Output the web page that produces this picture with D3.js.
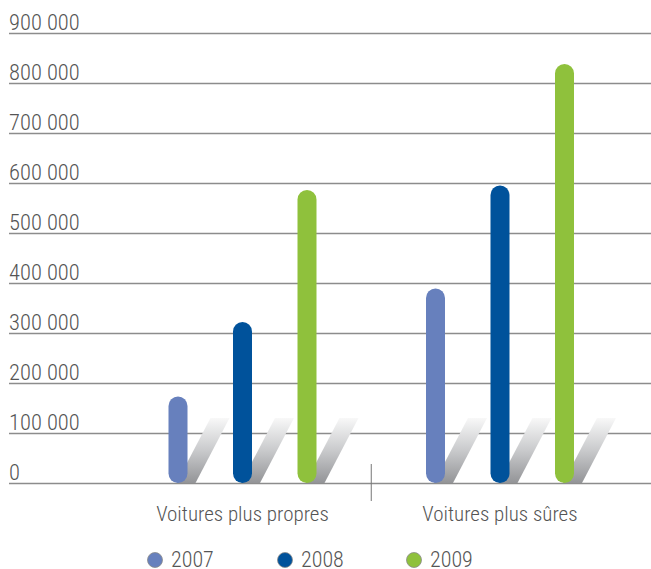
<!DOCTYPE html>
<html>
<head>
<meta charset="utf-8">
<script src="https://cdn.jsdelivr.net/npm/d3@7"></script>
<style>
  html, body { margin: 0; padding: 0; background: #fff; }
  svg { display: block; }
  text { font-family: "Roboto Condensed", "Liberation Sans Narrow", "Arial Narrow", sans-serif; font-weight: 300; fill: #555; }
</style>
</head>
<body>
<svg id="chart" width="651" height="569"></svg>
<script>
// Categories, series and values (number of cars)
const categories = ["Voitures plus propres", "Voitures plus sûres"];
const years = ["2007", "2008", "2009"];
const values2007 = [173000, 389000];
const values2008 = [322000, 595000];
const values2009 = [586000, 838000];
const yTicks = [0, 100000, 200000, 300000, 400000, 500000, 600000, 700000, 800000, 900000];
const colors = ["#6780bd", "#00529b", "#8fc13c"];

const seriesValues = [values2007, values2008, values2009];
const rows = [];
categories.forEach((c, ci) => {
  years.forEach((y, yi) => rows.push({ category: c, year: y, value: seriesValues[yi][ci], color: colors[yi] }));
});

const svg = d3.select("#chart");
const width = 651;

const y = d3.scaleLinear().domain([0, 900000]).range([483, 33]);
const x = d3.scaleBand().domain(categories).range([113.75, 628.75]);
const xi = d3.scalePoint().domain(years).range([-64.5, 64.5]);
const barW = 19;

const fmt = v => d3.format(",")(v).replace(/,/g, " ");

// Gradient for the slanted shadows
const defs = svg.append("defs");
const grad = defs.append("linearGradient").attr("id", "shade")
  .attr("x1", 0).attr("y1", 1).attr("x2", 0).attr("y2", 0);
grad.append("stop").attr("offset", "0%").attr("stop-color", "#939497");
grad.append("stop").attr("offset", "50%").attr("stop-color", "#c9cacc");
grad.append("stop").attr("offset", "100%").attr("stop-color", "#f8f8f8");

// Horizontal grid with labels
const yAxis = d3.axisRight(y).tickValues(yTicks).tickSize(width - 9).tickFormat(fmt);
const gy = svg.append("g").attr("transform", "translate(9,0)").call(yAxis);
gy.select(".domain").remove();
gy.selectAll(".tick line").attr("stroke", "#8c8c8c").attr("stroke-width", 1.5);
gy.selectAll(".tick text")
  .attr("x", 0).attr("dy", -4).attr("text-anchor", "start")
  .style("font-size", "22.5px");

// Separator tick between categories
svg.append("line")
  .attr("x1", x.range()[0] + x.bandwidth()).attr("x2", x.range()[0] + x.bandwidth())
  .attr("y1", 464).attr("y2", 501)
  .attr("stroke", "#777").attr("stroke-width", 1);

// Shadows
const shadowH = 65, slant = 34;
svg.append("g").selectAll("path").data(rows).join("path")
  .attr("d", d => {
    const cx = x(d.category) + x.bandwidth() / 2 + xi(d.year);
    const b = y(0);
    const x0 = cx - barW / 2 + 8, x1 = cx + barW / 2 + 8;
    return `M${x0},${b}L${x1},${b}L${x1 + slant},${b - shadowH}L${x0 + slant},${b - shadowH}Z`;
  })
  .attr("fill", "url(#shade)");

// Rounded bars
svg.append("g").selectAll("rect").data(rows).join("rect")
  .attr("x", d => x(d.category) + x.bandwidth() / 2 + xi(d.year) - barW / 2)
  .attr("y", d => y(d.value))
  .attr("width", barW)
  .attr("height", d => y(0) - y(d.value))
  .attr("rx", barW / 2)
  .attr("fill", d => d.color);

// Category labels
svg.append("g").selectAll("text").data(categories).join("text")
  .attr("x", d => x(d) + x.bandwidth() / 2)
  .attr("y", 521)
  .attr("text-anchor", "middle")
  .style("font-size", "21px")
  .text(d => d);

// Legend
const legendX = [155, 285, 414];
const lg = svg.append("g").selectAll("g").data(years).join("g")
  .attr("transform", (d, i) => `translate(${legendX[i]},560)`);
lg.append("circle").attr("r", 7.5).attr("fill", (d, i) => colors[i]).attr("stroke", "#8a8a8a").attr("stroke-width", 0.8);
lg.append("text").attr("x", 16).attr("y", 7).style("font-size", "22px").text(d => d);
</script>
</body>
</html>
